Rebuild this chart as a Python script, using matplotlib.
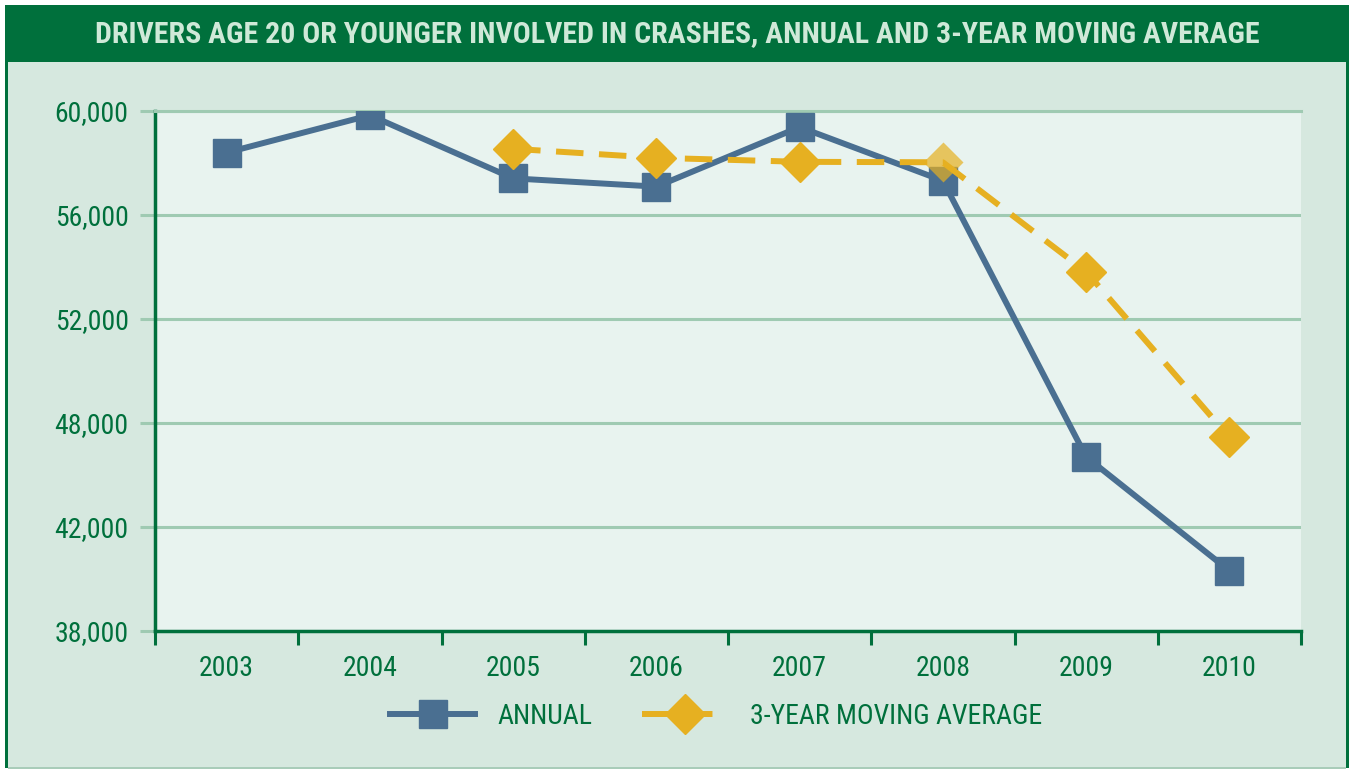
import matplotlib
matplotlib.use("Agg")
import matplotlib.pyplot as plt
from matplotlib import font_manager
from matplotlib.patches import Rectangle
import numpy as np

# pick a narrow sans that is installed, closest to the original's condensed face
available = {f.name for f in font_manager.fontManager.ttflist}
narrow = [n for n in ['Roboto Condensed', 'Archivo Narrow', 'PT Sans Narrow',
                      'Liberation Sans Narrow', 'Sofia Sans Condensed',
                      'Asap Condensed'] if n in available]
plt.rcParams['font.family'] = narrow[:1] + ['DejaVu Sans']

# data
years = ['2003', '2004', '2005', '2006', '2007', '2008', '2009', '2010']
annual = [58240, 59820, 57150, 56800, 59320, 57050, 45370, 40550]
ma_years = ['2005', '2006', '2007', '2008', '2009', '2010']
moving_avg = [58400, 58020, 57850, 57830, 53200, 46190]
# the source chart labels evenly spaced gridlines with these values
ytick_labels = ['38,000', '42,000', '48,000', '52,000', '56,000', '60,000']
title = 'DRIVERS AGE 20 OR YOUNGER INVOLVED IN CRASHES, ANNUAL AND 3-YEAR MOVING AVERAGE'

DARK = '#00703C'
BG = '#D6E8DF'
PLOT_BG = '#E8F3EF'
GRID = '#9FCAB2'
BLUE = '#4A6F91'
YELLOW = '#E6B021'
TITLE_TXT = '#CFE9D8'

W, H = 1354, 770
fig = plt.figure(figsize=(W / 100, H / 100), dpi=100)
fig.patch.set_facecolor('white')


def px_rect(x0, y0, x1, y1, **kw):
    # rectangle given in pixel coords (origin top-left)
    return Rectangle((x0 / W, 1 - y1 / H), (x1 - x0) / W, (y1 - y0) / H,
                     transform=fig.transFigure, **kw)


fig.add_artist(px_rect(5, 5, 1349, 768, facecolor=DARK, edgecolor='none', zorder=-3))
fig.add_artist(px_rect(8, 62, 1346, 767, facecolor=BG, edgecolor='none', zorder=-2))
fig.add_artist(px_rect(8, 767, 1346, 769, facecolor='#A9CCB9', edgecolor='none', zorder=-2))
fig.text(0.5, 1 - 34 / H, title, ha='center', va='center', fontsize=21.5,
         weight='bold', color=TITLE_TXT)

ax = fig.add_axes([155 / W, 1 - 631 / H, 1146 / W, 520 / H])
ax.set_facecolor(PLOT_BG)

x = np.arange(len(years))
x_ma = np.array([years.index(y) for y in ma_years])

ax.plot(x, annual, color=BLUE, lw=4.3, marker='s', ms=20, mec=BLUE,
        label='ANNUAL', zorder=3)
ax.plot(x_ma, moving_avg, color=YELLOW, lw=4.3, ls=(0, (4.6, 2.6)),
        marker='D', ms=20, mec=YELLOW, markevery=[0, 1, 2, 4, 5],
        label='3-YEAR MOVING AVERAGE', zorder=4)
# 2008 average marker is drawn see-through in the original
ax.plot(x_ma[3], moving_avg[3], ls='none', marker='D', ms=20, color=YELLOW,
        mec='none', alpha=0.7, zorder=5)

yticks = np.linspace(38000, 60000, len(ytick_labels))
ax.set_ylim(38000, 60000)
ax.set_yticks(yticks)
ax.set_yticklabels(ytick_labels)
ax.set_xlim(-0.5, len(years) - 0.5)
ax.set_xticks(np.arange(len(years) + 1) - 0.5)
ax.set_xticklabels([])
ax.set_xticks(x, minor=True)
ax.set_xticklabels(years, minor=True)

ax.yaxis.grid(True, color=GRID, lw=2.2)
ax.set_axisbelow(True)
ax.tick_params(axis='y', length=11, width=2.2, color=GRID, pad=8,
               labelsize=20, labelcolor=DARK)
ax.tick_params(axis='x', which='major', length=10, width=2.2, color=DARK)
ax.tick_params(axis='x', which='minor', length=0, pad=17, labelsize=20,
               labelcolor=DARK)
# bottom y tick continues the dark x axis
ax.yaxis.get_major_ticks()[0].tick1line.set_color(DARK)

for s in ['left', 'bottom']:
    ax.spines[s].set_color(DARK)
    ax.spines[s].set_linewidth(2.5)
ax.spines['right'].set_visible(False)
ax.spines['top'].set_color(GRID)
ax.spines['top'].set_linewidth(2.2)

fig.legend(loc='center', bbox_to_anchor=(716 / W, 1 - 716 / H), ncol=2,
           frameon=False, fontsize=20, labelcolor=DARK, handlelength=3.06,
           handletextpad=0.8, columnspacing=1.8)

fig.savefig('out.png', dpi=100, facecolor=fig.get_facecolor())
